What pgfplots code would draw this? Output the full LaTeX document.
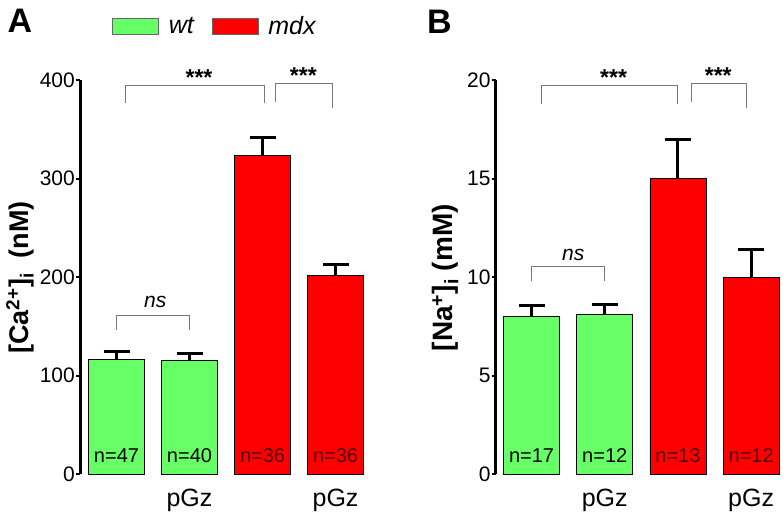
\documentclass[border=0pt]{standalone}
\usepackage{fontspec}
\setmainfont{Liberation Sans}
\usepackage{pgfplots}
\usepackage{pgfplotstable}
\pgfplotsset{compat=1.18}
\definecolor{wtgreen}{RGB}{102,255,102}
\definecolor{mdxred}{RGB}{255,0,0}
\definecolor{ndark}{RGB}{80,0,0}
\definecolor{brk}{RGB}{120,120,120}

\pgfplotstableread{
x y err
0 116 8
1 115 7
}\caWT
\pgfplotstableread{
x y err
2 323 19
3 202 11
}\caMDX
\pgfplotstableread{
x y err
0 8.0 0.55
1 8.1 0.5
}\naWT
\pgfplotstableread{
x y err
2 15.0 2.0
3 10.0 1.4
}\naMDX

\pgfplotsset{
  mybox legend/.style={legend image code/.code={\path[draw=none,fill=none] (0pt,0pt) -- (54pt,0pt);\draw[##1,draw=black!60,line width=1pt] (0pt,-8pt) rectangle (46pt,8pt);}},
  panel/.style={
    scale only axis, width=284pt, height=394pt,
    xmin=-0.5, xmax=3.39, ymin=0,
    axis x line=none, axis y line=left,
    y axis line style={line width=3pt, -},
    ytick style={line width=2pt, black},
    major tick length=4pt, tick align=outside,
    yticklabel style={font=\fontsize{21}{21}\selectfont, inner sep=1pt},
    /pgf/number format/assume math mode=true,
    clip=false,
  },
  mybar/.style={ybar, bar width=56pt, bar shift=0pt, draw=black, line width=0.8pt, forget plot,
    /pgfplots/error bars/y dir=plus, /pgfplots/error bars/y explicit,
    /pgfplots/error bars/error bar style={line width=3pt, black},
    /pgfplots/error bars/error mark options={line width=3pt, black, mark size=13pt, rotate=90}},
}

\begin{document}
\begin{tikzpicture}
\useasboundingbox (0pt,0pt) rectangle (783pt,515pt);

\begin{axis}[panel, at={(80pt,41pt)}, anchor=south west,
  ymax=400, ytick={0,100,200,300,400},
  ylabel={[Ca\textsuperscript{2+}]\textsubscript{i}~~(nM)},
  ylabel style={at={(axis description cs:-0.211,0.499)}, anchor=center, font=\bfseries\fontsize{27}{27}\selectfont},
  legend style={draw=none, fill=none, at={(axis description cs:0.113,1.137)}, anchor=west,
    legend columns=2, inner sep=0pt, font=\itshape\fontsize{25}{25}\selectfont,
    /tikz/every even column/.append style={column sep=16pt}},
]
\addplot[mybar, fill=wtgreen] table[x=x, y=y, y error=err] {\caWT};
\addplot[mybar, fill=mdxred] table[x=x, y=y, y error=err] {\caMDX};
\addlegendimage{fill=wtgreen, mybox legend}
\addlegendentry{wt}
\addlegendimage{fill=mdxred, mybox legend}
\addlegendentry{mdx}
% brackets
\draw[brk, line width=1pt] (axis cs:0.13,376.6) -- (axis cs:0.13,394) -- (axis cs:2.03,394) -- (axis cs:2.03,376.6);
\draw[brk, line width=1pt] (axis cs:2.18,378) -- (axis cs:2.18,396) -- (axis cs:2.96,396) -- (axis cs:2.96,371.6);
\draw[brk, line width=1pt] (axis cs:0,146) -- (axis cs:0,160.7) -- (axis cs:1,160.7) -- (axis cs:1,146);
\node[anchor=base, font=\bfseries\fontsize{23}{23}\selectfont] at (axis cs:1.13,394) {***};
\node[anchor=base, font=\bfseries\fontsize{23}{23}\selectfont] at (axis cs:2.56,396) {***};
\node[anchor=base, font=\itshape\fontsize{21}{21}\selectfont] at (axis cs:0.53,169) {ns};
% n labels
\node[anchor=base, yshift=12pt, font=\fontsize{20}{20}\selectfont] at (axis cs:0,0) {n=47};
\node[anchor=base, yshift=12pt, font=\fontsize{20}{20}\selectfont] at (axis cs:1,0) {n=40};
\node[anchor=base, yshift=12pt, text=ndark, font=\fontsize{20}{20}\selectfont] at (axis cs:2,0) {n=36};
\node[anchor=base, yshift=12pt, text=ndark, font=\fontsize{20}{20}\selectfont] at (axis cs:3,0) {n=36};
\node[anchor=base, yshift=-32pt, font=\fontsize{25}{25}\selectfont] at (axis cs:1,0) {pGz};
\node[anchor=base, yshift=-32pt, font=\fontsize{25}{25}\selectfont] at (axis cs:3,0) {pGz};
\end{axis}

\begin{axis}[panel, at={(495.7pt,41pt)}, anchor=south west, xmin=-0.49,
  ymax=20, ytick={0,5,10,15,20},
  ylabel={[Na\textsuperscript{+}]\textsubscript{i} (mM)},
  ylabel style={at={(axis description cs:-0.177,0.498)}, anchor=center, font=\bfseries\fontsize{28}{28}\selectfont},
]
\addplot[mybar, fill=wtgreen] table[x=x, y=y, y error=err] {\naWT};
\addplot[mybar, fill=mdxred] table[x=x, y=y, y error=err] {\naMDX};
\draw[brk, line width=1pt] (axis cs:0.13,18.8) -- (axis cs:0.13,19.72) -- (axis cs:2.0,19.72) -- (axis cs:2.0,18.8);
\draw[brk, line width=1pt] (axis cs:2.18,18.9) -- (axis cs:2.18,19.83) -- (axis cs:2.94,19.83) -- (axis cs:2.94,18.6);
\draw[brk, line width=1pt] (axis cs:0,9.78) -- (axis cs:0,10.52) -- (axis cs:1,10.52) -- (axis cs:1,9.78);
\node[anchor=base, font=\bfseries\fontsize{23}{23}\selectfont] at (axis cs:1.12,19.72) {***};
\node[anchor=base, font=\bfseries\fontsize{23}{23}\selectfont] at (axis cs:2.55,19.83) {***};
\node[anchor=base, font=\itshape\fontsize{21}{21}\selectfont] at (axis cs:0.57,10.85) {ns};
\node[anchor=base, yshift=12pt, font=\fontsize{20}{20}\selectfont] at (axis cs:0,0) {n=17};
\node[anchor=base, yshift=12pt, font=\fontsize{20}{20}\selectfont] at (axis cs:1,0) {n=12};
\node[anchor=base, yshift=12pt, text=ndark, font=\fontsize{20}{20}\selectfont] at (axis cs:2,0) {n=13};
\node[anchor=base, yshift=12pt, text=ndark, font=\fontsize{20}{20}\selectfont] at (axis cs:3,0) {n=12};
\node[anchor=base, yshift=-32pt, font=\fontsize{25}{25}\selectfont] at (axis cs:1,0) {pGz};
\node[anchor=base, yshift=-32pt, font=\fontsize{25}{25}\selectfont] at (axis cs:3,0) {pGz};
\end{axis}

\node[font=\bfseries\fontsize{34}{34}\selectfont] at (20pt,494pt) {A};
\node[font=\bfseries\fontsize{34}{34}\selectfont] at (439.5pt,493.5pt) {B};
\end{tikzpicture}
\end{document}
